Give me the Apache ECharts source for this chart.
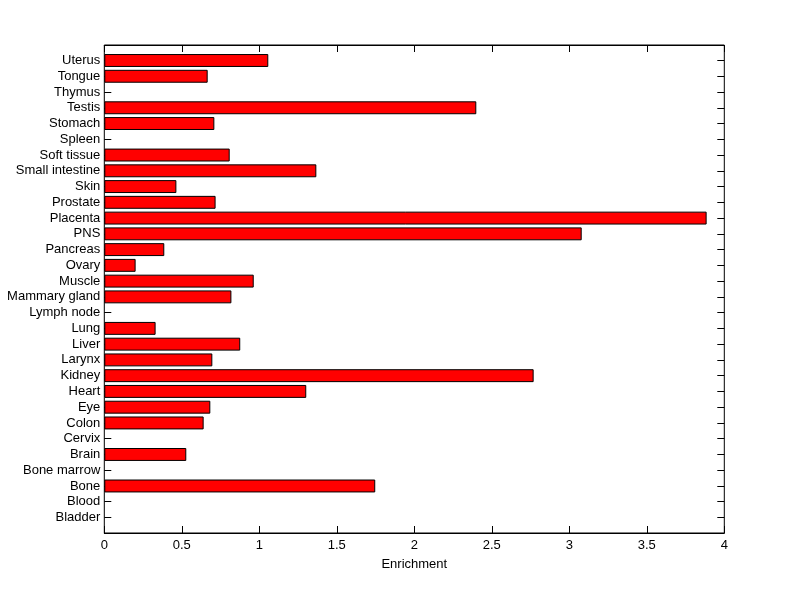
<!DOCTYPE html>
<html>
<head>
<meta charset="utf-8">
<script src="https://cdn.jsdelivr.net/npm/echarts@6/dist/echarts.min.js"></script>
<style>html,body{margin:0;padding:0;background:#fff;}#c{width:800px;height:599px;}</style>
</head>
<body>
<div id="c"></div>
<script>
const categories = ['Bladder','Blood','Bone','Bone marrow','Brain','Cervix','Colon','Eye','Heart','Kidney','Larynx','Liver','Lung','Lymph node','Mammary gland','Muscle','Ovary','Pancreas','PNS','Placenta','Prostate','Skin','Small intestine','Soft tissue','Spleen','Stomach','Testis','Thymus','Tongue','Uterus'];
const enrichment = [0,0,1.748,0,0.529,0,0.641,0.684,1.303,2.770,0.697,0.877,0.331,0,0.820,0.964,0.202,0.387,3.080,3.886,0.718,0.465,1.368,0.809,0,0.710,2.400,0,0.667,1.058];
const xTicks = [0,0.5,1,1.5,2,2.5,3,3.5,4];

const L = 104.3, R = 800 - 724.3, T = 45, B = 599 - 533;
const band = (533 - 45) / 32;
const font = 'Liberation Sans, Arial, sans-serif';

const chart = echarts.init(document.getElementById('c'));
chart.setOption({
  animation: false,
  backgroundColor: '#ffffff',
  grid: [
    {left: L, right: R, top: T, bottom: B, show: true, borderColor: '#000', borderWidth: 1, backgroundColor: 'transparent'},
    {left: L, right: R, top: T + band / 2, bottom: B + band / 2, show: false}
  ],
  xAxis: [
    {gridIndex: 0, type: 'value', min: xTicks[0], max: xTicks[xTicks.length - 1], interval: 0.5, position: 'bottom',
     name: 'Enrichment', nameLocation: 'middle', nameGap: 25,
     nameTextStyle: {color: '#000', fontSize: 13, fontFamily: font},
     axisLine: {show: true, lineStyle: {color: '#000'}},
     axisTick: {show: true, inside: true, length: 7, lineStyle: {color: '#000'}},
     axisLabel: {color: '#000', fontSize: 13, fontFamily: font, margin: 6},
     splitLine: {show: false}},
    {gridIndex: 0, type: 'value', min: 0, max: 4, interval: 0.5, position: 'top',
     axisLine: {show: true, lineStyle: {color: '#000'}},
     axisTick: {show: true, inside: true, length: 7, lineStyle: {color: '#000'}},
     axisLabel: {show: false}, splitLine: {show: false}},
    {gridIndex: 1, type: 'value', min: 0, max: 4, show: false}
  ],
  yAxis: [
    {gridIndex: 0, type: 'value', min: 0, max: 1, show: false},
    {gridIndex: 1, type: 'category', data: categories, position: 'left', boundaryGap: true,
     axisLine: {show: false},
     axisTick: {show: true, inside: true, alignWithLabel: true, length: 7, lineStyle: {color: '#000'}},
     axisLabel: {color: '#000', fontSize: 13, fontFamily: font, margin: 4, interval: 0},
     splitLine: {show: false}},
    {gridIndex: 1, type: 'category', data: categories, position: 'right', boundaryGap: true,
     axisLine: {show: false},
     axisTick: {show: true, inside: true, alignWithLabel: true, length: 7, lineStyle: {color: '#000'}},
     axisLabel: {show: false}, splitLine: {show: false}}
  ],
  series: [{
    type: 'bar',
    xAxisIndex: 2,
    yAxisIndex: 1,
    data: enrichment.map(v => v === 0 ? '-' : v),
    barWidth: '82%',
    itemStyle: {color: '#ff0000', borderColor: '#000', borderWidth: 1}
  }]
});
</script>
</body>
</html>
